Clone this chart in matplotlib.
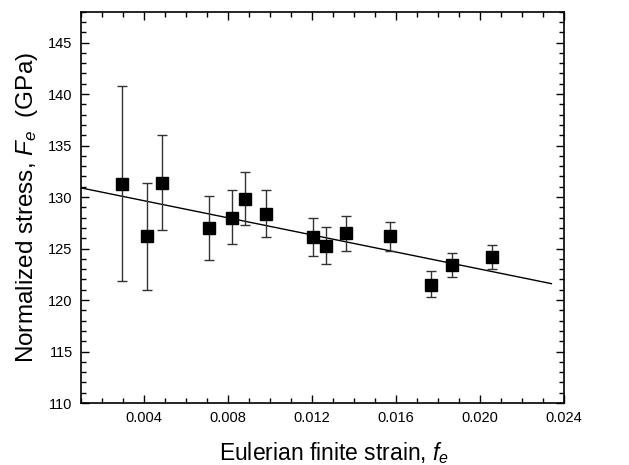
import matplotlib
matplotlib.use("Agg")
import matplotlib.pyplot as plt
import numpy as np
from matplotlib.ticker import MultipleLocator, FormatStrFormatter

plt.rcParams['font.family'] = ['Liberation Sans', 'DejaVu Sans']
plt.rcParams['mathtext.fontset'] = 'custom'
plt.rcParams['mathtext.rm'] = 'Liberation Sans'
plt.rcParams['mathtext.it'] = 'Liberation Sans:italic'

# Data
strain = [0.00293, 0.00414, 0.00487, 0.00711, 0.00821, 0.00883, 0.00983,
          0.01205, 0.01265, 0.01362, 0.01571, 0.01767, 0.01867, 0.02056]
stress = [131.3, 126.2, 131.4, 127.0, 128.0, 129.8, 128.4,
          126.1, 125.2, 126.5, 126.2, 121.5, 123.4, 124.2]
err_hi = [140.8, 131.4, 136.0, 130.1, 130.7, 132.4, 130.7,
          128.0, 127.1, 128.2, 127.6, 122.8, 124.6, 125.3]
err_lo = [121.8, 121.0, 126.8, 123.9, 125.4, 127.3, 126.1,
          124.3, 123.5, 124.8, 124.8, 120.3, 122.2, 123.0]
fit_intercept = 131.3
fit_slope = -415.0
fit_range = [0.001, 0.0234]

x = np.array(strain)
y = np.array(stress)
yerr = np.array([y - np.array(err_lo), np.array(err_hi) - y])

fig = plt.figure(figsize=(6.29, 4.65), dpi=100)
ax = fig.add_axes([0.1288, 0.1333, 0.7679, 0.8417])

xf = np.array(fit_range)
ax.plot(xf, fit_intercept + fit_slope * xf, color='black', lw=1.0, zorder=2)
ax.errorbar(x, y, yerr=yerr, fmt='none', ecolor='#333333', elinewidth=1.0,
            capsize=3.5, capthick=1.0, zorder=3)
ax.plot(x, y, 's', color='black', markersize=9, zorder=4)

ax.set_xlim(0.001, 0.024)
ax.set_ylim(110, 148)
ax.xaxis.set_major_locator(MultipleLocator(0.004))
ax.xaxis.set_minor_locator(MultipleLocator(0.001))
ax.xaxis.set_major_formatter(FormatStrFormatter('%.3f'))
ax.yaxis.set_major_locator(MultipleLocator(5))
ax.yaxis.set_minor_locator(MultipleLocator(1))

ax.tick_params(which='both', direction='in', top=True, right=True,
               labelsize=10.5, width=1.0, pad=6)
ax.tick_params(which='major', length=6)
ax.tick_params(which='minor', length=3.5)
for s in ax.spines.values():
    s.set_linewidth(1.2)

ax.set_xlabel('Eulerian finite strain, $\\mathit{f_e}$', fontsize=16.5)
ax.xaxis.set_label_coords(0.524, -0.095, transform=ax.transAxes)
ax.xaxis.label.set_verticalalignment('top')
ax.set_ylabel('Normalized stress, $\\mathit{F_e}$  (GPa)', fontsize=17.5, labelpad=6)

fig.savefig('out.png', dpi=100)
